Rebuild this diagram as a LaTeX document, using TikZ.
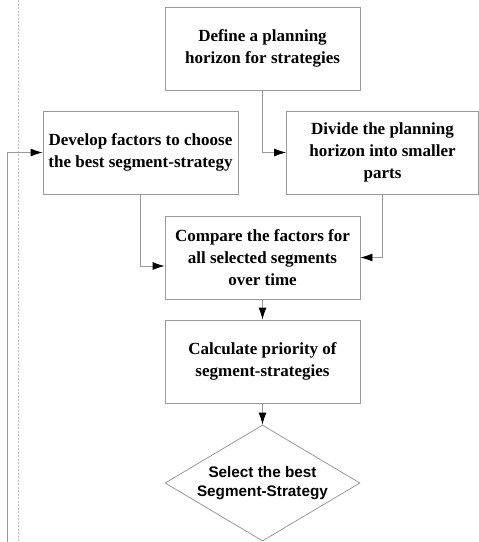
\documentclass[tikz,border=0pt]{standalone}
\usepackage{fontspec}
\setmainfont{Liberation Serif}
\newfontfamily\arialfont{Liberation Sans}
\usetikzlibrary{arrows.meta,shapes.geometric}

\begin{document}
\begin{tikzpicture}[x=1pt,y=-1pt,
    box/.style={draw=gray!80,line width=0.8pt,minimum width=195pt,minimum height=83pt,
      inner sep=0pt,align=center,font=\fontsize{17}{22}\selectfont\bfseries},
    choice/.style={draw=gray!80,line width=0.8pt,shape=diamond,aspect=1.68,minimum width=195pt,
      minimum height=116pt,inner sep=-15pt,align=center,font=\fontsize{15.3}{19}\selectfont\arialfont\bfseries},
    flow/.style={draw=gray!80,line width=0.8pt,-{Latex[black,length=12pt,width=8pt]}}]
      \useasboundingbox (0,0) rectangle (479,542);
      \coordinate (dt) at (18.5,0);
      \coordinate (db) at (18.5,542);
      \draw[gray!50,line width=0.8pt,dash pattern=on 2pt off 1.5pt] (dt) -- (db);

      \node[box] (define) at (262.5,48.5) {Define a planning\\horizon for strategies};
      \node[box] (develop) at (140.5,152.5) {Develop factors to choose\\the best segment-strategy};
      \node[box,minimum width=192pt] (divide) at (382.5,152.5) {Divide the planning\\horizon into smaller\\parts};
      \node[box] (compare) at (262.5,257.5) {Compare the factors for\\all selected segments\\over time};
      \node[box] (calc) at (262.5,361.5) {Calculate priority of\\segment-strategies};
      \node[choice] (select) at (262.5,483) {Select the best\\Segment-Strategy};
      \coordinate (back) at (7,542);

      \draw[flow] (define) |- (divide);
      \draw[flow] (develop) |- ([yshift=-8.5pt]compare.west);
      \draw[flow] (divide) |- (compare);
      \draw[flow] (compare) -- (calc);
      \draw[flow] (calc) -- (select);
      \draw[flow] (back) |- (develop);
    \end{tikzpicture}
\end{document}
